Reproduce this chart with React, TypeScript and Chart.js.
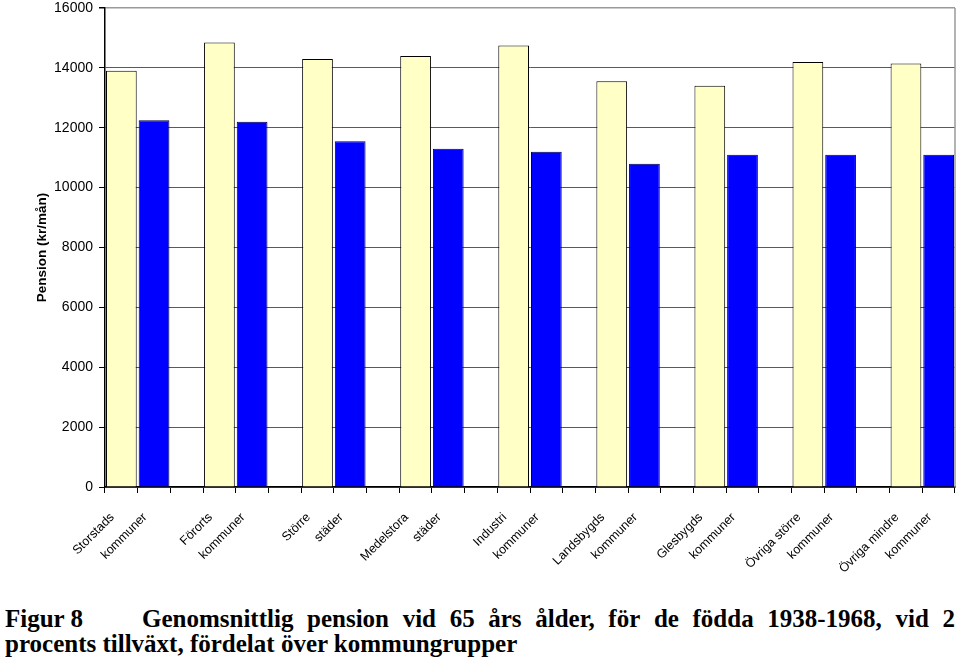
import React, { useEffect, useRef } from "react";
import { Chart, registerables } from "chart.js";

Chart.register(...registerables);

const groupLabels: string[][] = [
  ["Storstads", "kommuner"],
  ["Förorts", "kommuner"],
  ["Större", "städer"],
  ["Medelstora", "städer"],
  ["Industri", "kommuner"],
  ["Landsbygds", "kommuner"],
  ["Glesbygds", "kommuner"],
  ["Övriga större", "kommuner"],
  ["Övriga mindre", "kommuner"],
];
const yellowValues = [13900, 14850, 14300, 14400, 14750, 13550, 13400, 14200, 14150];
const blueValues = [12250, 12200, 11550, 11300, 11200, 10800, 11100, 11100, 11100];
const yTicks = [0, 2000, 4000, 6000, 8000, 10000, 12000, 14000, 16000];

const captionWords = [
  "Genomsnittlig", "pension", "vid", "65", "års", "ålder,", "för", "de", "födda", "1938-1968,", "vid", "2",
];

// Build 26 category slots: yellow, blue, empty, yellow, blue, empty, ...
const labels: string[] = [];
const yellowData: (number | null)[] = [];
const blueData: (number | null)[] = [];
groupLabels.forEach((g, i) => {
  labels.push(g[0]);
  yellowData.push(yellowValues[i]);
  blueData.push(null);
  labels.push(g[1]);
  yellowData.push(null);
  blueData.push(blueValues[i]);
  if (i < groupLabels.length - 1) {
    labels.push("");
    yellowData.push(null);
    blueData.push(null);
  }
});

const SANS = "'Liberation Sans', Arial, sans-serif";

export default function App() {
  const ref = useRef<HTMLCanvasElement | null>(null);

  useEffect(() => {
    if (!ref.current) return;
    const borderPlugin = {
      id: "rightBorder",
      afterDraw(chart: any) {
        const { ctx, chartArea } = chart;
        ctx.save();
        ctx.strokeStyle = "#9a9a9a";
        ctx.lineWidth = 1.5;
        ctx.beginPath();
        ctx.moveTo(chartArea.right, chartArea.top);
        ctx.lineTo(chartArea.right, chartArea.bottom);
        ctx.stroke();
        ctx.restore();
      },
    };
    const chart = new Chart(ref.current, {
      type: "bar",
      data: {
        labels,
        datasets: [
          {
            data: yellowData,
            backgroundColor: "#FFFFC6",
            borderColor: "#000000",
            borderWidth: 1,
            barPercentage: 0.94,
            categoryPercentage: 1,
          },
          {
            data: blueData,
            backgroundColor: "#0000FF",
            borderColor: "#000040",
            borderWidth: 1,
            barPercentage: 0.94,
            categoryPercentage: 1,
          },
        ],
      },
      options: {
        responsive: false,
        animation: false,
        layout: { padding: { top: 8, right: 5, left: 0, bottom: 0 } },
        plugins: {
          legend: { display: false },
          tooltip: { enabled: false },
        },
        scales: {
          x: {
            type: "category",
            stacked: true,
            offset: true,
            grid: {
              offset: true,
              drawOnChartArea: false,
              drawTicks: true,
              tickLength: 6,
              color: "#000",
            },
            border: { color: "#000", width: 1.5 },
            ticks: {
              autoSkip: false,
              maxRotation: 45,
              minRotation: 45,
              padding: 17,
              labelOffset: -9,
              color: "#000",
              font: { family: SANS, size: 12.5 },
            },
            afterFit: (scale: any) => {
              scale.height = 103;
              scale.paddingLeft = 0;
              scale.paddingRight = 0;
            },
          },
          y: {
            min: 0,
            max: 16000,
            stacked: false,
            afterBuildTicks: (scale: any) => {
              scale.ticks = yTicks.map((v) => ({ value: v }));
            },
            grid: {
              color: (c: any) => (c.tick && c.tick.value === 16000 ? "#9a9a9a" : "#5a5a5a"),
              lineWidth: (c: any) => (c.tick && c.tick.value === 16000 ? 1.5 : 1),
              drawTicks: true,
              tickLength: 6,
              tickColor: "#000",
            },
            border: { color: "#000", width: 1.5 },
            ticks: {
              padding: 6,
              color: "#000",
              font: { family: SANS, size: 14 },
              callback: (v: any) => String(v),
            },
            title: {
              display: true,
              text: "Pension (kr/mån)",
              color: "#000",
              font: { family: SANS, size: 13.5, weight: "bold" },
              padding: { top: 34, bottom: 0 },
            },
            afterFit: (scale: any) => {
              scale.width = 105;
              scale.paddingTop = 0;
              scale.paddingBottom = 0;
            },
          },
        },
      },
      plugins: [borderPlugin],
    });
    return () => chart.destroy();
  }, []);

  const serif = "'Liberation Serif', 'Times New Roman', serif";
  return (
    <div style={{ position: "absolute", left: 0, top: 0, width: 960, height: 663, background: "#fff", overflow: "hidden" }}>
      <canvas ref={ref} width={960} height={590} style={{ position: "absolute", left: 0, top: 0 }} />
      <div
        style={{
          position: "absolute",
          left: 5,
          top: 606,
          width: 950,
          display: "flex",
          fontFamily: serif,
          fontWeight: "bold",
          fontSize: 25,
          lineHeight: "25px",
          whiteSpace: "nowrap",
          color: "#000",
        }}
      >
        <span style={{ width: 137, flex: "none" }}>Figur 8</span>
        <span style={{ flex: 1, display: "flex", justifyContent: "space-between" }}>
          {captionWords.map((w, i) => (
            <span key={i}>{w}</span>
          ))}
        </span>
      </div>
      <div
        style={{
          position: "absolute",
          left: 5,
          top: 631,
          fontFamily: serif,
          fontWeight: "bold",
          fontSize: 25,
          lineHeight: "25px",
          whiteSpace: "nowrap",
          color: "#000",
        }}
      >
        procents tillväxt, fördelat över kommungrupper
      </div>
    </div>
  );
}
